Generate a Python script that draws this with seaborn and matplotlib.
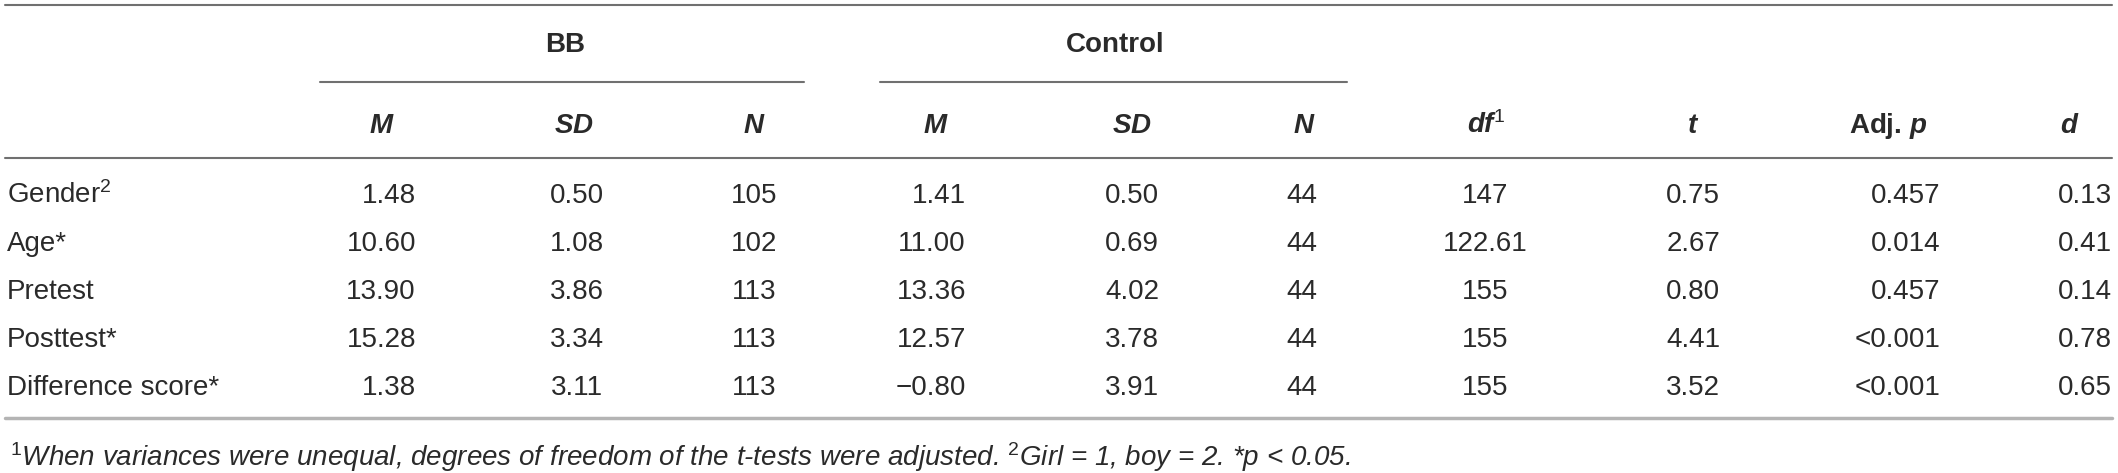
import matplotlib
matplotlib.use("Agg")
import matplotlib.pyplot as plt
import seaborn as sns

# ---------------------------
# DATA
# ---------------------------
row_labels = ["Gender$^{2}$", "Age*", "Pretest", "Posttest*", "Difference score*"]
bb_m = ["1.48", "10.60", "13.90", "15.28", "1.38"]
bb_sd = ["0.50", "1.08", "3.86", "3.34", "3.11"]
bb_n = ["105", "102", "113", "113", "113"]
ctrl_m = ["1.41", "11.00", "13.36", "12.57", "\u22120.80"]
ctrl_sd = ["0.50", "0.69", "4.02", "3.78", "3.91"]
ctrl_n = ["44", "44", "44", "44", "44"]
df_vals = ["147", "122.61", "155", "155", "155"]
t_vals = ["0.75", "2.67", "0.80", "4.41", "3.52"]
adj_p = ["0.457", "0.014", "0.457", "<0.001", "<0.001"]
d_vals = ["0.13", "0.41", "0.14", "0.78", "0.65"]

groups = ["BB", "Control"]
col_headers = [r"$\mathbf{M}$", r"$\mathbf{SD}$", r"$\mathbf{N}$",
               r"$\mathbf{M}$", r"$\mathbf{SD}$", r"$\mathbf{N}$",
               r"$\mathbf{df}^{1}$", r"$\mathbf{t}$", r"Adj. $\mathbf{p}$", r"$\mathbf{d}$"]
footnote = (r"$^{\mathit{1}}$When variances were unequal, degrees of freedom of the t-tests "
            r"were adjusted. $^{\mathit{2}}$Girl = 1, boy = 2. *p < 0.05.")

# ---------------------------
# STYLE
# ---------------------------
sns.set_theme(style="white")
plt.rcParams["font.family"] = ["Liberation Sans", "DejaVu Sans"]
plt.rcParams["mathtext.fontset"] = "custom"
plt.rcParams["mathtext.rm"] = "Liberation Sans"
plt.rcParams["mathtext.it"] = "Liberation Sans:italic"
plt.rcParams["mathtext.bf"] = "Liberation Sans:italic:bold"

W, H = 2118, 473
TXT = "#2a2a2a"
FS = 20

# layout: (header x, data x, data alignment)
cols = [
    (382, 416, "right"),
    (574, 577, "center"),
    (754, 754, "center"),
    (936, 966, "right"),
    (1132, 1132, "center"),
    (1304, 1302, "center"),
    (1486, 1485, "center"),
    (1693, 1693, "center"),
    (1888, 1940, "right"),
    (2070, 2112, "right"),
]
row_base = [203, 251, 299, 347, 395]

fig = plt.figure(figsize=(W / 100, H / 100), dpi=100)
ax = fig.add_axes([0, 0, 1, 1])
ax.set_xlim(0, W)
ax.set_ylim(H, 0)
ax.axis("off")

# rules
ax.plot([5, 2112], [5, 5], color="#707070", lw=1.5)
ax.plot([320, 804], [82, 82], color="#707070", lw=1.5)
ax.plot([880, 1347], [82, 82], color="#707070", lw=1.5)
ax.plot([5, 2112], [158, 158], color="#707070", lw=1.5)
ax.plot([5, 2112], [418, 418], color="#b4b4b4", lw=2.5)

# group headers
ax.text(565, 52, groups[0], ha="center", va="baseline", fontsize=FS, fontweight="bold", color=TXT)
ax.text(1115, 52, groups[1], ha="center", va="baseline", fontsize=FS, fontweight="bold", color=TXT)

# column headers
for (hx, _, _), lab in zip(cols, col_headers):
    ax.text(hx, 133, lab, ha="center", va="baseline", fontsize=FS, fontweight="bold", color=TXT)

# body
columns = [bb_m, bb_sd, bb_n, ctrl_m, ctrl_sd, ctrl_n, df_vals, t_vals, adj_p, d_vals]
for i, lab in enumerate(row_labels):
    y = row_base[i]
    ax.text(7, y, lab, ha="left", va="baseline", fontsize=FS, color=TXT)
    for (_, dx, al), vals in zip(cols, columns):
        ax.text(dx, y, vals[i], ha=al, va="baseline", fontsize=FS, color=TXT)

ax.text(10, 466, footnote, ha="left", va="baseline", fontsize=20, style="italic", color=TXT)

fig.savefig("out.png", dpi=100)
